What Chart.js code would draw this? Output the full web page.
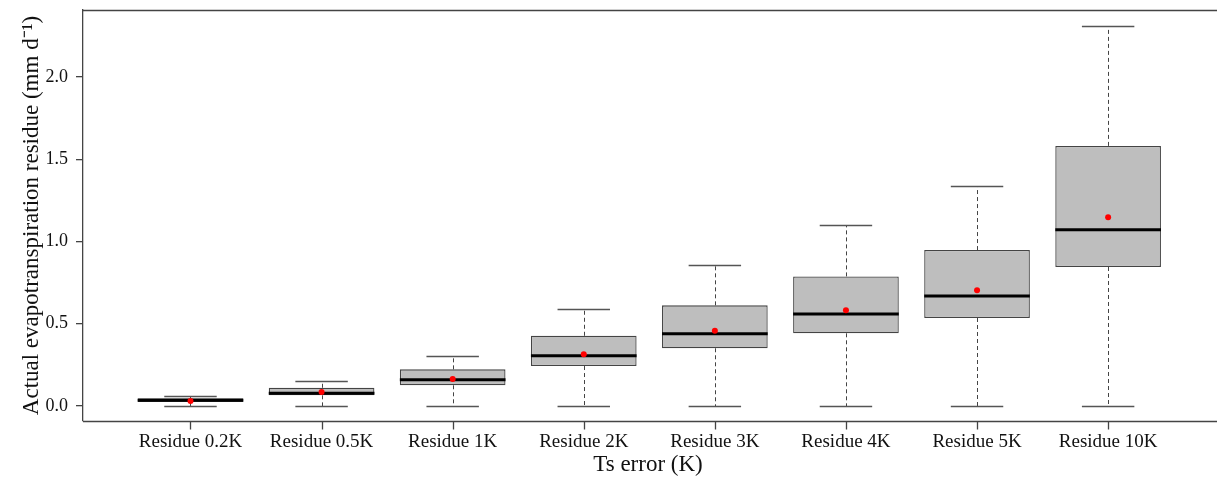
<!DOCTYPE html>
<html>
<head>
<meta charset="utf-8">
<script src="https://cdn.jsdelivr.net/npm/chart.js@4.4.0/dist/chart.umd.min.js"></script>
<style>
  body { margin: 0; background: #fff; }
  #wrap { width: 1217px; height: 479px; }
</style>
</head>
<body>
<div id="wrap"><canvas id="boxChart" width="1217" height="479"></canvas></div>
<script>
// box plot values (mm d-1)
const categories = ['Residue 0.2K', 'Residue 0.5K', 'Residue 1K', 'Residue 2K', 'Residue 3K', 'Residue 4K', 'Residue 5K', 'Residue 10K'];
const whiskerLow = [0, 0, 0, 0, 0, 0, 0, 0];
const q1 = [0.024, 0.065, 0.126, 0.243, 0.351, 0.442, 0.535, 0.845];
const median = [0.035, 0.077, 0.160, 0.306, 0.440, 0.559, 0.669, 1.072];
const q3 = [0.047, 0.111, 0.223, 0.427, 0.612, 0.788, 0.948, 1.581];
const whiskerHigh = [0.061, 0.152, 0.302, 0.588, 0.855, 1.100, 1.335, 2.312];
const means = [0.030, 0.085, 0.164, 0.315, 0.458, 0.582, 0.703, 1.147];
const yTicks = [0, 0.5, 1.0, 1.5, 2.0];

const fontFam = '"Liberation Serif", "Times New Roman", serif';

const boxExtras = {
    id: 'boxExtras',
    // frame line on top, bottom axis to the edge, tick marks under each box
    beforeDatasetsDraw(chart) {
        const a = chart.chartArea, ctx = chart.ctx;
        const xs = chart.scales.x;
        const w = chart.width;
        const axisY = Math.round(a.bottom) + 0.5;
        ctx.save();
        ctx.setLineDash([]);
        ctx.strokeStyle = '#444';
        ctx.lineWidth = 1.3;
        ctx.beginPath();
        ctx.moveTo(a.left, a.top + 0.5);
        ctx.lineTo(w, a.top + 0.5);
        ctx.moveTo(a.left, axisY);
        ctx.lineTo(w, axisY);
        categories.forEach((c, i) => {
            const px = Math.round(xs.getPixelForValue(i)) + 0.5;
            ctx.moveTo(px, axisY);
            ctx.lineTo(px, axisY + 8);
        });
        ctx.stroke();
        ctx.restore();
    },
    // whiskers, caps and median lines drawn right after the boxes
    afterDatasetDraw(chart, args) {
        if (args.index !== 0) return;
        const ctx = chart.ctx;
        const xs = chart.scales.x, ys = chart.scales.y;
        ctx.save();
        categories.forEach((c, i) => {
            const cx = Math.round(xs.getPixelForValue(i)) + 0.5;
            const capL = xs.getPixelForValue(i - 0.2);
            const capR = xs.getPixelForValue(i + 0.2);
            const boxL = xs.getPixelForValue(i - 0.403);
            const boxR = xs.getPixelForValue(i + 0.403);
            const yLo = Math.round(ys.getPixelForValue(whiskerLow[i])) + 0.5;
            const yHi = Math.round(ys.getPixelForValue(whiskerHigh[i])) + 0.5;
            const yQ1 = ys.getPixelForValue(q1[i]);
            const yQ3 = ys.getPixelForValue(q3[i]);
            const yMed = ys.getPixelForValue(median[i]);

            // dashed whiskers
            ctx.strokeStyle = '#444';
            ctx.lineWidth = 1;
            ctx.setLineDash([4, 3]);
            ctx.beginPath();
            ctx.moveTo(cx, yQ3); ctx.lineTo(cx, yHi);
            ctx.moveTo(cx, yQ1); ctx.lineTo(cx, yLo);
            ctx.stroke();

            // caps
            ctx.setLineDash([]);
            ctx.strokeStyle = '#555';
            ctx.lineWidth = 1.3;
            ctx.beginPath();
            ctx.moveTo(capL, yHi); ctx.lineTo(capR, yHi);
            ctx.moveTo(capL, yLo); ctx.lineTo(capR, yLo);
            ctx.stroke();

            // median
            ctx.strokeStyle = '#000';
            ctx.lineWidth = 3;
            ctx.beginPath();
            ctx.moveTo(boxL, yMed); ctx.lineTo(boxR, yMed);
            ctx.stroke();
        });
        ctx.restore();
    }
};

new Chart(document.getElementById('boxChart'), {
    type: 'bar',
    plugins: [boxExtras],
    data: {
        datasets: [
            {
                type: 'bar',
                label: 'box',
                data: categories.map((c, i) => ({ x: i, y: [q1[i], q3[i]] })),
                backgroundColor: '#bebebe',
                borderColor: '#444',
                borderWidth: 1.3,
                borderSkipped: false,
                categoryPercentage: 1,
                barPercentage: 0.806,
                order: 2
            },
            {
                type: 'scatter',
                label: 'mean',
                data: categories.map((c, i) => ({ x: i, y: means[i] })),
                pointRadius: 3,
                pointBackgroundColor: '#ff0000',
                pointBorderWidth: 0,
                order: 1
            }
        ]
    },
    options: {
        responsive: false,
        animation: false,
        layout: { padding: { top: 10, right: 0, left: 0, bottom: 0 } },
        plugins: {
            legend: { display: false },
            tooltip: { enabled: false }
        },
        scales: {
            x: {
                type: 'linear',
                min: -0.82,
                max: 7.8,
                offset: false,
                afterBuildTicks: s => { s.ticks = categories.map((c, i) => ({ value: i })); },
                afterFit: s => { s.height = 58; s.paddingLeft = 0; s.paddingRight = 0; },
                ticks: {
                    callback: v => categories[v],
                    color: '#111',
                    padding: 10,
                    maxRotation: 0,
                    autoSkip: false,
                    font: { family: fontFam, size: 19 }
                },
                grid: { display: false, drawTicks: false, tickLength: 0 },
                border: { display: false },
                title: {
                    display: true,
                    text: 'Ts error (K)',
                    color: '#111',
                    padding: { top: 4, bottom: 0 },
                    font: { family: fontFam, size: 23 }
                }
            },
            y: {
                min: -0.091,
                max: 2.407,
                afterBuildTicks: s => { s.ticks = yTicks.map(v => ({ value: v })); },
                afterFit: s => { s.width = 83; s.paddingTop = 0; s.paddingBottom = 0; },
                ticks: {
                    callback: v => v.toFixed(1),
                    color: '#111',
                    padding: 8,
                    font: { family: fontFam, size: 18 }
                },
                grid: { drawOnChartArea: false, drawTicks: true, tickLength: 7, color: '#444', tickColor: '#444', tickWidth: 1.3, lineWidth: 1.3 },
                border: { display: true, color: '#444', width: 1.3 },
                title: {
                    display: true,
                    text: 'Actual evapotranspiration residue (mm d\u207B\u00B9)',
                    color: '#111',
                    padding: { top: 18, bottom: 0 },
                    font: { family: fontFam, size: 23 }
                }
            }
        }
    }
});
</script>
</body>
</html>
